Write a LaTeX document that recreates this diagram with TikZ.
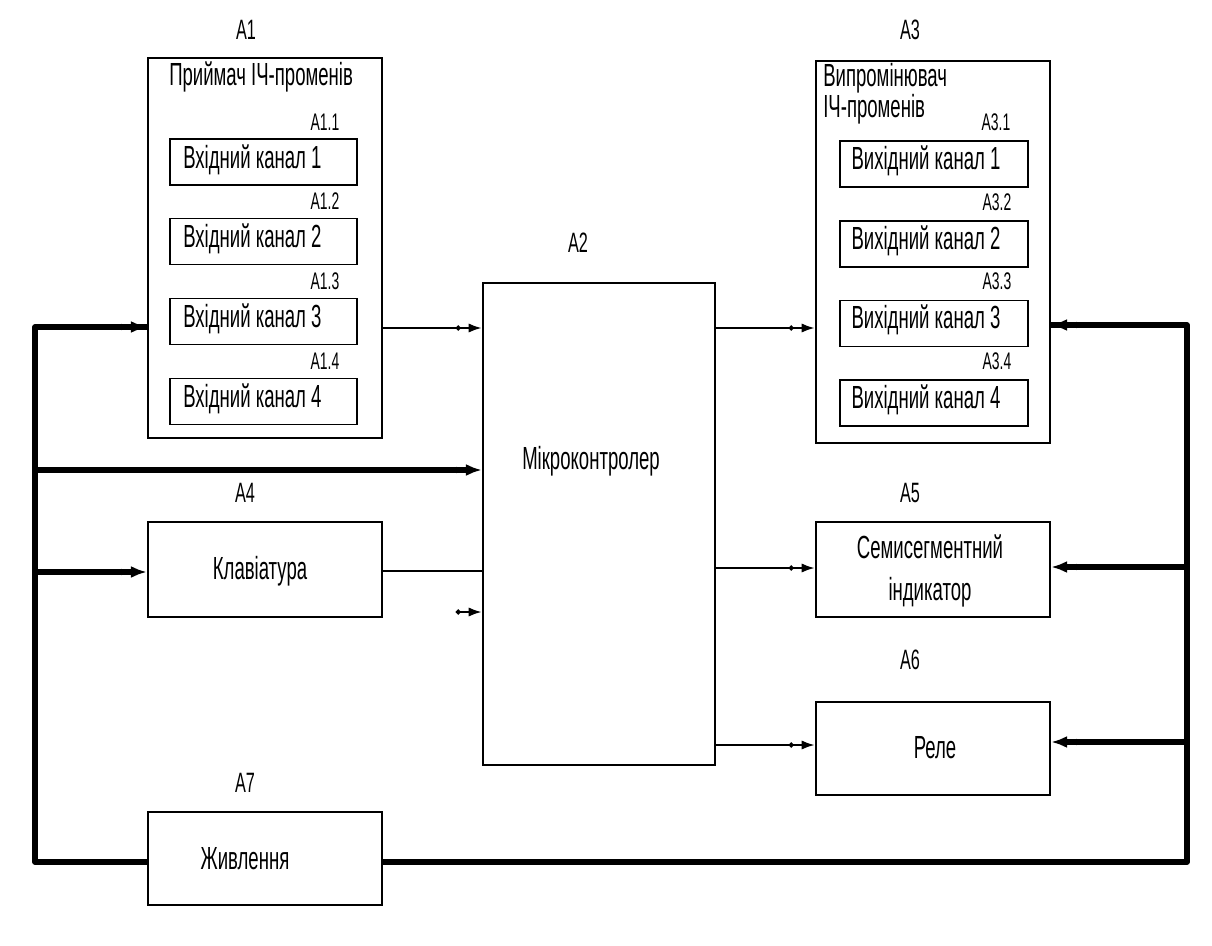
\documentclass[tikz,border=0pt]{standalone}
\usepackage{fontspec}
\setmainfont{Liberation Sans}[FakeStretch=0.58]
\usetikzlibrary{arrows.meta}
\begin{document}
\begin{tikzpicture}[x=0.75pt,y=-0.75pt,
  box/.style 2 args={draw,line width=1.6pt,inner sep=0pt,minimum width={#1*0.75pt},minimum height={#2*0.75pt}},
  inbox/.style={draw,line width=1.1pt,inner sep=0pt,minimum width={#1*0.75pt},minimum height={46*0.75pt}},
  txt/.style={font=\fontsize{24}{26}\selectfont,inner sep=0pt},
  lbl/.style={font=\fontsize{21}{24}\selectfont,inner sep=0pt},
  sub/.style={font=\fontsize{18}{20}\selectfont,inner sep=0pt},
  thin/.style={line width=1.8pt},
  bus/.style={line width=4.2pt},
  arr/.style={-{Circle[length=3.5pt,width=3.5pt,sep=6pt]Latex[length=10pt,width=7pt]}},
  barr/.style={-{Circle[length=4pt,width=4pt,sep=5pt]Latex[length=12pt,width=9pt]}}
]
\useasboundingbox[fill=white] (0,0) rectangle (1212,945);
% main boxes
\node[box={234}{380}] (A1) at (265,248) {};
\node[box={232}{482}] (A2) at (599,524) {};
\node[box={234}{382}] (A3) at (933,252) {};
\node[box={234}{95}] (A4) at (265,569.5) {};
\node[box={234}{95}] (A5) at (933,569.5) {};
\node[box={234}{93}] (A6) at (933,748.5) {};
\node[box={234}{93}] (A7) at (265,858.5) {};
% labels
\node[lbl] (lA1) at (246,30) {A1};
\node[lbl] (lA2) at (578,243) {A2};
\node[lbl] (lA3) at (910,30) {A3};
\node[lbl] (lA4) at (245,493) {A4};
\node[lbl] (lA5) at (910,493) {A5};
\node[lbl] (lA6) at (910,660) {A6};
\node[lbl] (lA7) at (245,783) {A7};
% A1 content
\node[txt,anchor=west] (t1) at (169,77) {Приймач ІЧ-променів};
\node[inbox=187] (b11) at (263.5,162) {};
\node[inbox=187] (b12) at (263.5,241.5) {};
\node[inbox=187] (b13) at (263.5,321.5) {};
\node[inbox=187] (b14) at (263.5,401.5) {};
\node[txt,anchor=west] (tb11) at (183,160) {Вхідний канал 1};
\node[txt,anchor=west] (tb12) at (183,239) {Вхідний канал 2};
\node[txt,anchor=west] (tb13) at (183,319) {Вхідний канал 3};
\node[txt,anchor=west] (tb14) at (183,399) {Вхідний канал 4};
\node[sub] (l11) at (325,122) {A1.1};
\node[sub] (l12) at (325,201) {A1.2};
\node[sub] (l13) at (325,281) {A1.3};
\node[sub] (l14) at (325,361) {A1.4};
% A3 content
\node[txt,anchor=west,align=left,font=\fontsize{24}{22}\selectfont] (t3) at (823,94) {Випромінювач\\ІЧ-променів};
\node[inbox=188] (b31) at (934,164) {};
\node[inbox=188] (b32) at (934,244) {};
\node[inbox=188] (b33) at (934,323.5) {};
\node[inbox=188] (b34) at (934,403) {};
\node[txt] (tb31) at (926,161) {Вихідний канал 1};
\node[txt] (tb32) at (926,241) {Вихідний канал 2};
\node[txt] (tb33) at (926,320) {Вихідний канал 3};
\node[txt] (tb34) at (926,400) {Вихідний канал 4};
\node[sub] (l31) at (996,122) {A3.1};
\node[sub] (l32) at (997,202) {A3.2};
\node[sub] (l33) at (997,281) {A3.3};
\node[sub] (l34) at (997,361) {A3.4};
% other texts
\node[txt] (tA2) at (591,461) {Мікроконтролер};
\node[txt] (tA4) at (260,571) {Клавіатура};
\node[txt,align=center,font=\fontsize{24}{32}\selectfont] (tA5) at (930,571) {Семисегментний\\індикатор};
\node[txt] (tA6) at (935,748) {Реле};
\node[txt] (tA7) at (245,859) {Живлення};
% bus coordinates
\coordinate (L1) at (35,327);
\coordinate (L2) at (35,470);
\coordinate (L3) at (35,572);
\coordinate (L4) at (35,862);
\coordinate (R1) at (1187,325);
\coordinate (R2) at (1187,567);
\coordinate (R3) at (1187,742);
\coordinate (R4) at (1187,862);
\coordinate (c1) at (0,328);
\coordinate (c2) at (0,568);
\coordinate (c3) at (0,745);
\coordinate (c4) at (0,571);
\coordinate (s1) at (457,612);
% buses
\draw[bus,line join=round] (L1 -| A1.west) -- (L1) -- (L4) -- (L4 -| A7.west);
\draw[bus,barr] (L1) -- (L1 -| A1.west);
\draw[bus,barr] (L2) -- (L2 -| A2.west);
\draw[bus,barr] (L3) -- (L3 -| A4.west);
\draw[bus,line join=round] (R1 -| A3.east) -- (R1) -- (R4) -- (R4 -| A7.east);
\draw[bus,barr] (R1) -- (R1 -| A3.east);
\draw[bus,barr] (R2) -- (R2 -| A5.east);
\draw[bus,barr] (R3) -- (R3 -| A6.east);
% thin connectors
\draw[thin,arr] (c1 -| A1.east) -- (c1 -| A2.west);
\draw[thin,arr] (c1 -| A2.east) -- (c1 -| A3.west);
\draw[thin,arr] (c2 -| A2.east) -- (c2 -| A5.west);
\draw[thin,arr] (c3 -| A2.east) -- (c3 -| A6.west);
\draw[thin] (c4 -| A4.east) -- (c4 -| A2.west);
\draw[thin,arr] (s1) -- (s1 -| A2.west);
\end{tikzpicture}
\end{document}
